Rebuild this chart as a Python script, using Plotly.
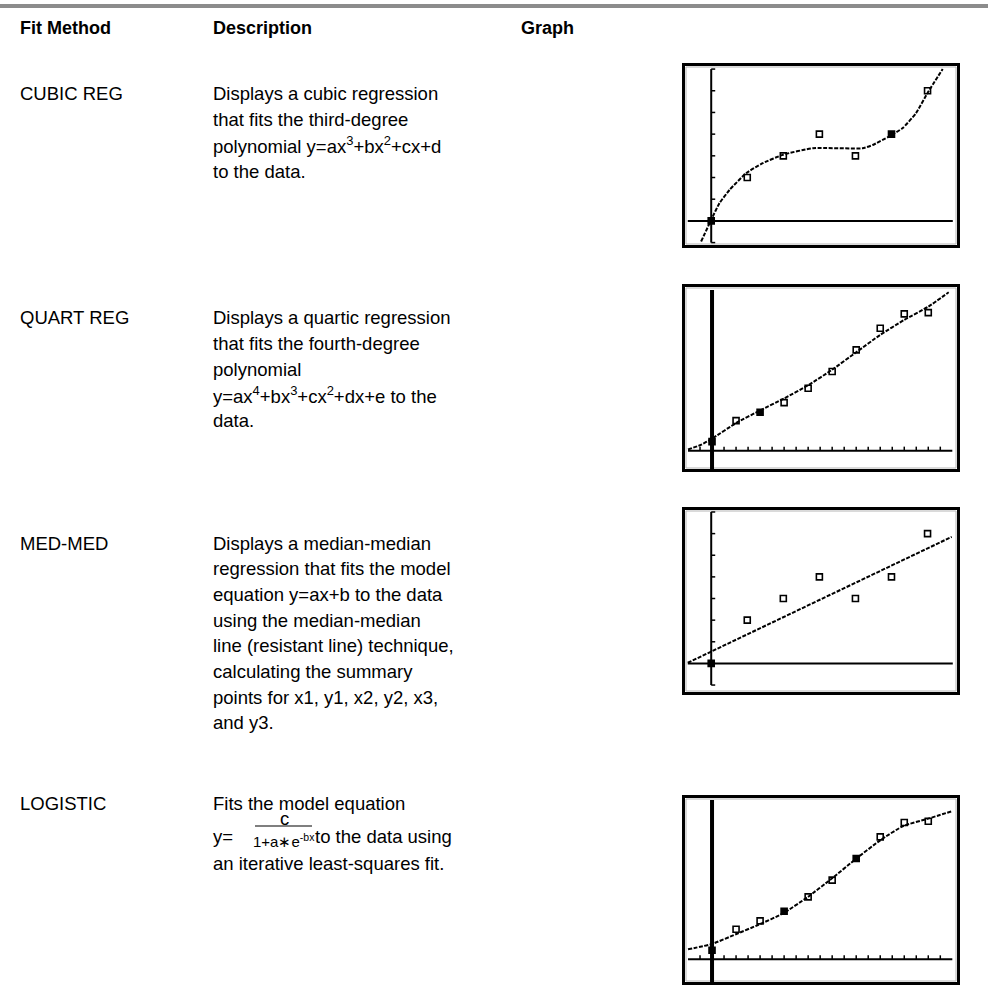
import plotly.graph_objects as go

W, H = 988, 999
FONT = "Liberation Sans, Arial, sans-serif"

# ---- table text ----
headers = ["Fit Method", "Description", "Graph"]
methods = ["CUBIC REG", "QUART REG", "MED-MED", "LOGISTIC"]
cubic_lines = ["Displays a cubic regression",
               "that fits the third-degree",
               "polynomial y=ax<sup>3</sup>+bx<sup>2</sup>+cx+d",
               "to the data."]
quart_lines = ["Displays a quartic regression",
               "that fits the fourth-degree",
               "polynomial",
               "y=ax<sup>4</sup>+bx<sup>3</sup>+cx<sup>2</sup>+dx+e to the",
               "data."]
medmed_lines = ["Displays a median-median",
                "regression that fits the model",
                "equation y=ax+b to the data",
                "using the median-median",
                "line (resistant line) technique,",
                "calculating the summary",
                "points for x1, y1, x2, y2, x3,",
                "and y3."]
logistic_lines = ["Fits the model equation",
                  "to the data using",
                  "an iterative least-squares fit."]
logistic_num = "c"
logistic_den = "1+a\u2217e<sup>-bx</sup>"

# ---- graph data ----
pts7_x = [0, 1, 2, 3, 4, 5, 6]
pts7_y = [0, 2, 3, 4, 3, 4, 6]
pts10_x = [0, 2, 4, 6, 8, 10, 12, 14, 16, 18]
pts10_y = [0.75, 2.5, 3.2, 4.0, 5.2, 6.6, 8.4, 10.2, 11.4, 11.5]

cubic_fit_x = [-0.28, 0, 0.23, 0.51, 0.97, 1.43, 1.99, 2.82, 4.2, 4.48, 4.94, 5.31, 5.68, 6.0, 6.42]
cubic_fit_y = [-0.95, 0.05, 0.82, 1.43, 2.2, 2.66, 3.05, 3.35, 3.35, 3.5, 3.9, 4.28, 4.97, 5.9, 7.0]
quart_fit_x = [-2, -1, 0, 2, 4, 6, 8, 10, 12, 14, 16, 18, 19.7]
quart_fit_y = [0.1, 0.45, 1.0, 2.3, 3.35, 4.35, 5.45, 6.75, 8.2, 9.65, 10.9, 12.0, 13.2]
medmed_fit_x = [-0.65, 6.67]
medmed_fit_y = [0.03, 5.85]
logistic_fit_x = [-2, 0, 2.03, 3.83, 5.92, 7.94, 9.89, 11.97, 14.03, 15.92, 18, 20.03]
logistic_fit_y = [0.83, 1.28, 2.11, 2.86, 3.83, 5.17, 6.67, 8.36, 9.94, 11.11, 11.72, 12.36]


def px(x):
    return x / W


def py(y):
    return 1 - y / H


fig = go.Figure()
shapes = []
annotations = []


def text(x, y, s, size=18.5, bold=False, anchor="left"):
    if bold:
        s = "<b>" + s + "</b>"
    annotations.append(dict(x=px(x), y=py(y), xref="paper", yref="paper", text=s,
                            showarrow=False, xanchor=anchor, yanchor="middle",
                            font=dict(family=FONT, size=size, color="black")))


# top rule
shapes.append(dict(type="rect", xref="paper", yref="paper", x0=0, x1=1, y0=py(8), y1=py(4),
                   fillcolor="#8c8c8c", line=dict(width=0)))

# header
for h, x in zip(headers, [18, 211, 519]):
    text(x, 28, h, size=18, bold=True)

# rows
row_tops = [94, 318, 543, 803]
step = 25.7
for m, y in zip(methods, row_tops):
    text(18, y, m)
for lines, y0 in zip([cubic_lines, quart_lines, medmed_lines], row_tops[:3]):
    for i, s in enumerate(lines):
        text(211, y0 + i * step, s)

# logistic row with the fraction
text(211, row_tops[3], logistic_lines[0])
text(211, 836, "y=")
text(284, 818, logistic_num, size=18.5, anchor="center")
shapes.append(dict(type="line", xref="paper", yref="paper", x0=px(255), x1=px(312),
                   y0=py(826), y1=py(826), line=dict(color="black", width=1.2)))
text(284, 840, logistic_den, size=15, anchor="center")
text(313, 836, logistic_lines[1])
text(211, 863, logistic_lines[2])

# ---- graphs ----
graphs = [
    dict(box=(682, 63, 960, 248), xr=(-0.81, 6.9), yr=(-1.25, 7.28),
         px_=pts7_x, py_=pts7_y, filled=[0, 5], fx=cubic_fit_x, fy=cubic_fit_y,
         xaxis=(-0.65, 6.7), yaxis=(-1, 7), ythick=2, yticks=list(range(-1, 8)), xticks=[]),
    dict(box=(682, 284, 960, 472), xr=(-2.5, 20.64), yr=(-1.78, 13.89),
         px_=pts10_x, py_=pts10_y, filled=[0, 2], fx=quart_fit_x, fy=quart_fit_y,
         xaxis=(-2, 20), yaxis=(-1.78, 13.4), ythick=4, yticks=[], xticks=[t for t in range(-1, 20) if t]),
    dict(box=(682, 507, 960, 695), xr=(-0.81, 6.9), yr=(-1.46, 7.23),
         px_=pts7_x, py_=pts7_y, filled=[0], fx=medmed_fit_x, fy=medmed_fit_y,
         xaxis=(-0.65, 6.7), yaxis=(-1, 7), ythick=2, yticks=list(range(-1, 8)), xticks=[]),
    dict(box=(682, 795, 960, 985), xr=(-2.5, 20.64), yr=(-2.14, 13.69),
         px_=pts10_x, py_=pts10_y, filled=[0, 3, 6], fx=logistic_fit_x, fy=logistic_fit_y,
         xaxis=(-2, 20), yaxis=(-2.14, 13.28), ythick=4, yticks=[], xticks=[t for t in range(-1, 20) if t]),
]

layout_axes = {}
for k, g in enumerate(graphs, start=1):
    sfx = "" if k == 1 else str(k)
    xr_, yr_ = "x" + sfx, "y" + sfx
    x0, y0, x1, y1 = g["box"]
    layout_axes["xaxis" + sfx] = dict(domain=[px(x0), px(x1)], range=list(g["xr"]), visible=False,
                                      anchor=yr_, fixedrange=True)
    layout_axes["yaxis" + sfx] = dict(domain=[py(y1), py(y0)], range=list(g["yr"]), visible=False,
                                      anchor=xr_, fixedrange=True)
    # screen border
    shapes.append(dict(type="rect", xref="paper", yref="paper", x0=px(x0 + 1.5), x1=px(x1 - 1.5),
                       y0=py(y1 - 1.5), y1=py(y0 + 1.5), line=dict(color="black", width=3)))
    shapes.append(dict(type="rect", xref="paper", yref="paper", x0=px(x0 + 4), x1=px(x1 - 4),
                       y0=py(y1 - 4), y1=py(y0 + 4), line=dict(color="#b5b5b5", width=1)))
    # calculator axes
    shapes.append(dict(type="line", xref=xr_, yref=yr_, x0=g["xaxis"][0], x1=g["xaxis"][1], y0=0, y1=0,
                       line=dict(color="black", width=2)))
    shapes.append(dict(type="line", xref=xr_, yref=yr_, x0=0, x1=0, y0=g["yaxis"][0], y1=g["yaxis"][1],
                       line=dict(color="black", width=g["ythick"])))
    for t in g["yticks"]:
        shapes.append(dict(type="line", xref=xr_, yref=yr_, xsizemode="pixel", xanchor=0,
                           x0=0, x1=4, y0=t, y1=t, line=dict(color="black", width=1.5)))
    for t in g["xticks"]:
        shapes.append(dict(type="line", xref=xr_, yref=yr_, ysizemode="pixel", yanchor=0,
                           x0=t, x1=t, y0=0, y1=4, line=dict(color="black", width=1.5)))
    # regression curve
    fig.add_trace(go.Scatter(x=g["fx"], y=g["fy"], mode="lines", xaxis=xr_, yaxis=yr_,
                             line=dict(color="black", width=2, dash="4px,1.5px", shape="spline", smoothing=0.5),
                             showlegend=False, hoverinfo="skip"))
    # data points
    syms = ["square" if i in g["filled"] else "square-open" for i in range(len(g["px_"]))]
    fig.add_trace(go.Scatter(x=g["px_"], y=g["py_"], mode="markers", xaxis=xr_, yaxis=yr_,
                             marker=dict(symbol=syms, size=6, color="black", line=dict(color="black", width=1.6)),
                             showlegend=False))

fig.update_layout(width=W, height=H, margin=dict(l=0, r=0, t=0, b=0),
                  paper_bgcolor="white", plot_bgcolor="rgba(0,0,0,0)",
                  shapes=shapes, annotations=annotations, **layout_axes)

# the page body has a default 8px margin; drop it so the figure sits at the window corner
fig.write_html("out.html", config={"displayModeBar": False},
               post_script="document.body.style.margin='0px';")
